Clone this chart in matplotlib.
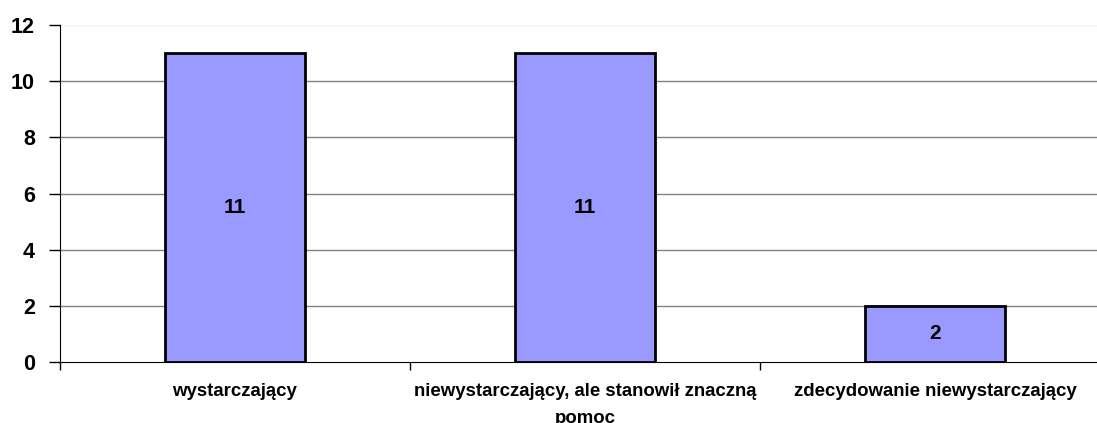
import matplotlib
matplotlib.use("Agg")
import matplotlib.pyplot as plt
import numpy as np

categories = ["wystarczający", "niewystarczający, ale stanowił znaczną\npomoc", "zdecydowanie niewystarczający"]
values = [11, 11, 2]
yticks = [0, 2, 4, 6, 8, 10, 12]

plt.rcParams['font.family'] = ['Liberation Sans', 'DejaVu Sans']

fig = plt.figure(figsize=(10.97, 4.23), dpi=100)
W, H = 1097, 423
left, right = 60, 1110
top, bottom = 25, 362
ax = fig.add_axes([left / W, 1 - bottom / H, (right - left) / W, (bottom - top) / H])

x = np.arange(len(categories))
ax.set_xlim(-0.5, len(categories) - 0.5)
ax.set_ylim(0, 12)

for yv in yticks[1:-1]:
    ax.axhline(yv, color="#808080", lw=1, zorder=0)
ax.axhline(12, color="#f2f2f2", lw=1, zorder=0)

bars = ax.bar(x, values, width=0.4, color="#9999FF", edgecolor="black", linewidth=2, zorder=2)
for xi, v in zip(x, values):
    ax.text(xi, v / 2, str(v), ha="center", va="center", fontsize=15, fontweight="bold", zorder=3)

for s in ["top", "right"]:
    ax.spines[s].set_visible(False)
ax.spines["left"].set_color("black")
ax.spines["bottom"].set_color("black")

ax.set_yticks(yticks)
ax.set_yticklabels([str(t) for t in yticks], fontsize=15.5, fontweight="bold")
ax.tick_params(axis="y", length=8, width=1, pad=10)

ax.set_xticks(np.arange(len(categories) + 1) - 0.5, minor=False)
ax.set_xticklabels([])
ax.tick_params(axis="x", length=6, width=1)
ax.set_xticks(x, minor=True)
ax.set_xticklabels(categories, minor=True, fontsize=13.4, fontweight="bold", linespacing=1.75)
ax.tick_params(axis="x", which="minor", length=0, pad=15)

fig.savefig("out.png", dpi=100)
